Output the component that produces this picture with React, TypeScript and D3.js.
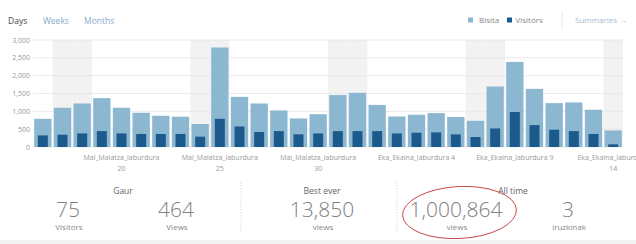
import React from "react";
import * as d3 from "d3";

const days = [
  "Mai_Malatza_laburdura 16", "Mai_Malatza_laburdura 17", "Mai_Malatza_laburdura 18", "Mai_Malatza_laburdura 19",
  "Mai_Malatza_laburdura 20", "Mai_Malatza_laburdura 21", "Mai_Malatza_laburdura 22", "Mai_Malatza_laburdura 23",
  "Mai_Malatza_laburdura 24", "Mai_Malatza_laburdura 25", "Mai_Malatza_laburdura 26", "Mai_Malatza_laburdura 27",
  "Mai_Malatza_laburdura 28", "Mai_Malatza_laburdura 29", "Mai_Malatza_laburdura 30", "Mai_Malatza_laburdura 31",
  "Eka_Ekaina_laburdura 1", "Eka_Ekaina_laburdura 2", "Eka_Ekaina_laburdura 3", "Eka_Ekaina_laburdura 4",
  "Eka_Ekaina_laburdura 5", "Eka_Ekaina_laburdura 6", "Eka_Ekaina_laburdura 7", "Eka_Ekaina_laburdura 8",
  "Eka_Ekaina_laburdura 9", "Eka_Ekaina_laburdura 10", "Eka_Ekaina_laburdura 11", "Eka_Ekaina_laburdura 12",
  "Eka_Ekaina_laburdura 13", "Eka_Ekaina_laburdura 14",
];
const weekendDays = [
  "Mai_Malatza_laburdura 17", "Mai_Malatza_laburdura 18", "Mai_Malatza_laburdura 24", "Mai_Malatza_laburdura 25",
  "Mai_Malatza_laburdura 31", "Eka_Ekaina_laburdura 1", "Eka_Ekaina_laburdura 7", "Eka_Ekaina_laburdura 8",
  "Eka_Ekaina_laburdura 14",
];
const bisita = [790, 1100, 1220, 1370, 1100, 960, 875, 850, 645, 2790, 1405, 1220, 1025, 800, 920, 1455, 1520, 1180, 855, 905, 950, 840, 735, 1695, 2385, 1630, 1230, 1250, 1045, 464];
const visitors = [325, 345, 380, 445, 380, 365, 365, 365, 290, 790, 575, 420, 445, 355, 380, 445, 445, 445, 380, 400, 410, 355, 280, 520, 980, 615, 485, 445, 365, 75];
const yTicks = [0, 500, 1000, 1500, 2000, 2500, 3000];
const tickLabels = [
  "Mai_Malatza_laburdura 20", "Mai_Malatza_laburdura 25", "Mai_Malatza_laburdura 30",
  "Eka_Ekaina_laburdura 4", "Eka_Ekaina_laburdura 9", "Eka_Ekaina_laburdura 14",
];
const periodTabs = ["Days", "Weeks", "Months"];
const legendNames = ["Bisita", "Visitors"];
const statGroups = ["Gaur", "Best ever", "All time"];
const statValues = [75, 464, 13850, 1000864, 3];
const statLabels = ["Visitors", "Views", "views", "views", "iruzkinak"];

const LIGHT = "#8cb7d1";
const DARK = "#1c5a8c";
const FONT = "'Open Sans', 'Noto Sans', sans-serif";

export default function App() {
  const x = d3.scaleBand<string>().domain(days).range([33, 623]).paddingInner(0.12).paddingOuter(0.06);
  const y = d3.scaleLinear().domain([0, 3000]).range([147, 40]);
  const step = x.step();
  const bw = x.bandwidth();
  const dw = 10;
  const fmt = d3.format(",");

  const tabX = [8, 43, 84];
  const statX = [68, 176, 322, 456, 568];
  const groupX = [123, 322, 513];

  return (
    <div style={{ position: "absolute", left: 0, top: 0 }}>
      <svg width={636} height={244} style={{ display: "block", fontFamily: FONT }}>
        <rect x={0} y={0} width={636} height={244} fill="#fff" />
        {periodTabs.map((t, i) => (
          <text key={t} x={tabX[i]} y={23.5} fontSize={8.5} fill={i === 0 ? "#444" : "#8aaacb"}>{t}</text>
        ))}
        <rect x={468} y={17.5} width={5} height={5} fill={LIGHT} />
        <text x={479} y={23} fontSize={8} fill="#888">{legendNames[0]}</text>
        <rect x={507} y={17.5} width={5} height={5} fill={DARK} />
        <text x={515.5} y={23} fontSize={8} fill="#888">{legendNames[1]}</text>
        <line x1={562} x2={562} y1={12} y2={29} stroke="#e6e6e6" />
        <text x={575} y={23} fontSize={8} fill="#a6bbcf">Summaries →</text>

        {weekendDays.map((d) => (
          <rect key={d} x={(x(d) as number) - step * 0.06} y={y(3000)} width={step} height={y(0) - y(3000)} fill="#f2f2f2" />
        ))}
        {yTicks.map((t) => (
          <g key={t}>
            <line x1={33} x2={623} y1={y(t)} y2={y(t)} stroke="#e6e6e6" strokeWidth={0.8} />
            <text x={30} y={y(t) + 2.5} fontSize={7} fill="#999" textAnchor="end">{fmt(t)}</text>
          </g>
        ))}
        {days.map((d, i) => (
          <g key={d}>
            <rect x={x(d)} y={y(bisita[i])} width={bw} height={y(0) - y(bisita[i])} fill={LIGHT} />
            <rect x={(x(d) as number) + (bw - dw) / 2} y={y(visitors[i])} width={dw} height={y(0) - y(visitors[i])} fill={DARK} />
          </g>
        ))}
        {tickLabels.map((l) => {
          const cx = (x(l) as number) + bw / 2;
          const idx = l.lastIndexOf(" ");
          const wrap = l.length >= 23;
          return wrap ? (
            <text key={l} x={cx} fontSize={7} fill="#999" textAnchor="middle">
              <tspan x={cx} y={160}>{l.slice(0, idx)}</tspan>
              <tspan x={cx} y={170.5}>{l.slice(idx + 1)}</tspan>
            </text>
          ) : (
            <text key={l} x={cx} y={160} fontSize={7} fill="#999" textAnchor="middle">{l}</text>
          );
        })}

        {statGroups.map((g, i) => (
          <text key={g} x={groupX[i]} y={193.5} fontSize={8.5} fill="#666" textAnchor="middle">{g}</text>
        ))}
        {statValues.map((v, i) => (
          <g key={i}>
            <text x={statX[i]} y={216.5} fontSize={21} fontWeight={300} fill="#808080" textAnchor="middle">{fmt(v)}</text>
            <text x={statX[i] + 1} y={230} fontSize={8} fill="#888" textAnchor="middle">{statLabels[i]}</text>
          </g>
        ))}
        <line x1={241} x2={241} y1={182} y2={233} stroke="#dcdcdc" strokeDasharray="1.5,1.5" />
        <line x1={397} x2={397} y1={182} y2={233} stroke="#dcdcdc" strokeDasharray="1.5,1.5" />
        <ellipse cx={459.5} cy={212.5} rx={57} ry={26} fill="none" stroke="#c0393b" strokeWidth={0.9} transform="rotate(-3 459.5 212.5)" />
        <rect x={0} y={240} width={636} height={4} fill="#f2f2f2" />
      </svg>
    </div>
  );
}
